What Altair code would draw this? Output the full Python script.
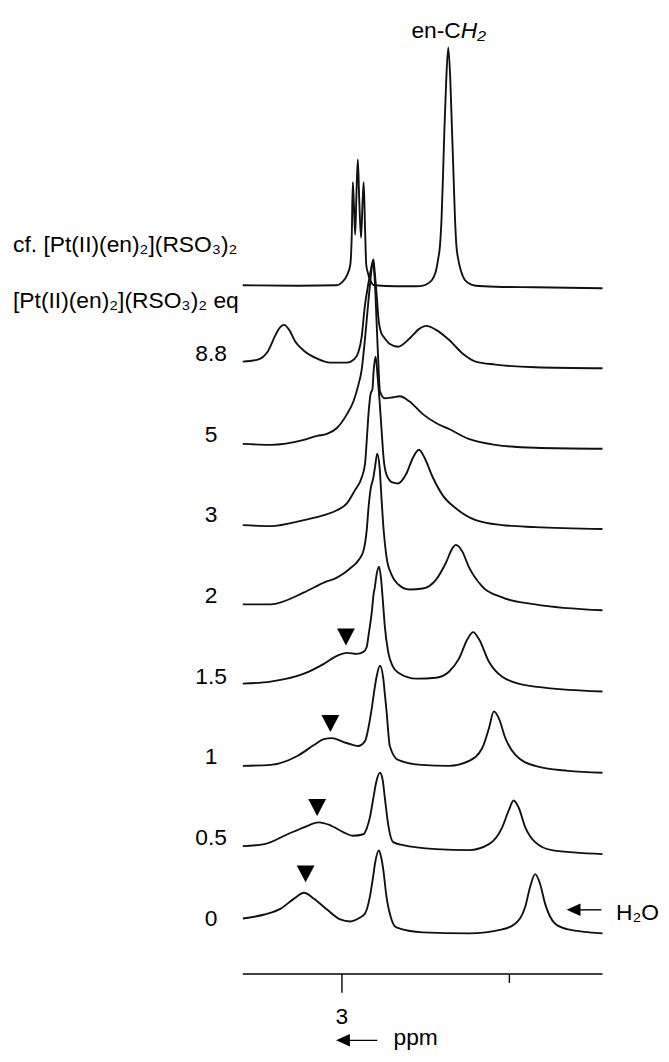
import altair as alt
import pandas as pd

FONT = "Liberation Sans"
FS = 23

# ---------------- spectra (chemical shift in ppm, intensity above each trace's baseline) ----------------
trace_names = ["cf", "8.8", "5", "3", "2", "1.5", "1", "0.5", "0"]
trace_offsets = [771, 694, 611, 529, 449, 369, 286, 205, 132]

cf_ppm = [3.592, 3.266, 3.030, 3.000, 2.970, 2.950, 2.941, 2.935, 2.929, 2.921, 2.914, 2.905, 2.897, 2.886,
          2.877, 2.870, 2.862, 2.855, 2.846, 2.828, 2.805, 2.675, 2.556, 2.509, 2.485, 2.456, 2.438, 2.426,
          2.414, 2.405, 2.396, 2.388, 2.377, 2.365, 2.353, 2.343, 2.334, 2.325, 2.317, 2.305, 2.290, 2.272,
          2.243, 2.201, 2.083, 1.846, 1.444]
cf_int = [0, -0.5, 0, 3, 10, 21, 53, 104, 83, 51, 88, 127, 88, 48, 83, 104, 58, 21, 13, 4, 0, -1, -1, 0, 2,
          7, 15, 26, 41, 68, 113, 158, 208, 240, 208, 158, 113, 68, 41, 26, 15, 7, 2, -0.5, -1.5, -2, -3]

eq88_ppm = [3.592, 3.503, 3.444, 3.396, 3.367, 3.345, 3.315, 3.278, 3.227, 3.148, 3.071, 2.970, 2.923, 2.901,
            2.882, 2.864, 2.846, 2.828, 2.812, 2.805, 2.793, 2.781, 2.763, 2.751, 2.716, 2.665, 2.598, 2.538,
            2.497, 2.438, 2.361, 2.278, 2.201, 2.083, 1.846, 1.444]
eq88_int = [0, 2, 10, 27, 35, 37, 32, 20, 11, 3, -1, -1, 3, 10, 25, 55, 75, 92, 103, 92, 68, 42, 28, 25, 18,
            15, 23, 33, 36, 32, 22, 8, 0, -3, -5.7, -6.7]

eq5_ppm = [3.592, 3.426, 3.227, 3.148, 3.089, 3.030, 2.970, 2.931, 2.901, 2.882, 2.864, 2.852, 2.834, 2.815,
           2.805, 2.793, 2.783, 2.773, 2.744, 2.694, 2.655, 2.598, 2.517, 2.438, 2.361, 2.243, 2.083, 1.846,
           1.444]
eq5_int = [0, -1, 4, 8, 10, 16, 30, 43, 60, 75, 103, 125, 158, 183, 168, 123, 83, 53, 46, 47, 48, 43, 30, 21,
           15, 5, -1, -4, -5]

eq3_ppm = [3.592, 3.426, 3.227, 3.108, 3.030, 2.970, 2.923, 2.882, 2.862, 2.852, 2.840, 2.828, 2.818, 2.811,
           2.799, 2.787, 2.775, 2.763, 2.751, 2.734, 2.698, 2.665, 2.615, 2.576, 2.540, 2.507, 2.457, 2.398,
           2.320, 2.201, 2.043, 1.846, 1.444]
eq3_int = [0, -1, 5, 10, 15, 22, 35, 48, 62, 85, 115, 133, 137, 155, 170, 150, 125, 95, 67, 51, 43, 42, 52,
           68, 76, 68, 48, 30, 17, 5, 0, -2, -4]

eq2_ppm = [3.592, 3.426, 3.227, 3.108, 3.030, 2.953, 2.899, 2.870, 2.852, 2.840, 2.828, 2.812, 2.803, 2.789,
           2.775, 2.763, 2.751, 2.734, 2.704, 2.663, 2.598, 2.517, 2.438, 2.379, 2.339, 2.320, 2.280, 2.243,
           2.162, 2.043, 1.846, 1.444]
eq2_int = [0, 0, 12, 22, 27, 36, 45, 55, 75, 100, 117, 128, 138, 152, 138, 105, 75, 48, 30, 20, 15, 16, 25,
           42, 57, 60, 53, 38, 18, 7, 0, -6]

eq15_ppm = [3.592, 3.426, 3.227, 3.108, 3.030, 2.970, 2.911, 2.872, 2.852, 2.840, 2.822, 2.811, 2.803, 2.793,
            2.778, 2.766, 2.754, 2.744, 2.724, 2.698, 2.663, 2.556, 2.438, 2.361, 2.302, 2.250, 2.217, 2.182,
            2.122, 2.043, 1.888, 1.444]
eq15_int = [0, 2, 10, 20, 28, 31, 30, 32, 37, 50, 72, 90, 98, 110, 118, 105, 80, 58, 32, 18, 11, 5, 6, 12, 25,
            45, 52, 45, 22, 7, -2, -8]

eq1_ppm = [3.592, 3.426, 3.266, 3.167, 3.108, 3.059, 2.990, 2.931, 2.905, 2.862, 2.840, 2.822, 2.805, 2.793,
           2.773, 2.753, 2.744, 2.734, 2.714, 2.665, 2.527, 2.359, 2.241, 2.162, 2.122, 2.093, 2.063, 2.024,
           1.964, 1.846, 1.651, 1.444]
eq1_int = [0, 1, 10, 21, 27, 28, 24, 21, 20, 25, 40, 58, 78, 90, 101, 88, 73, 56, 20, 6, 1, 0, 5, 18, 38, 55,
           48, 28, 11, 0, -5, -7]

eq05_ppm = [3.592, 3.463, 3.325, 3.227, 3.138, 3.069, 2.990, 2.935, 2.872, 2.852, 2.833, 2.812, 2.796, 2.773,
            2.757, 2.744, 2.724, 2.694, 2.635, 2.438, 2.241, 2.122, 2.043, 2.004, 1.975, 1.945, 1.905, 1.846,
            1.747, 1.444]
eq05_int = [0, 2, 12, 19, 24, 21, 14, 10.5, 12, 18, 29, 49, 64, 74, 67, 49, 22, 4, 1, -3, -4, 2, 19, 36, 46,
            39, 19, 4, -4, -8]

eq0_ppm = [3.592, 3.463, 3.365, 3.286, 3.227, 3.167, 3.089, 3.010, 2.951, 2.892, 2.862, 2.833, 2.814, 2.802,
           2.779, 2.766, 2.753, 2.734, 2.704, 2.675, 2.517, 2.241, 2.043, 1.964, 1.905, 1.876, 1.846, 1.817,
           1.787, 1.728, 1.649, 1.444]
eq0_int = [0, 4, 10, 20, 26, 20, 9, -1, -3, 1, 5, 22, 42, 56, 68.7, 62, 49, 22, -1, -9, -14, -15, -11, -5, 12,
           32, 44.7, 35, 15, -5, -11, -15]

ppm_lists = [cf_ppm, eq88_ppm, eq5_ppm, eq3_ppm, eq2_ppm, eq15_ppm, eq1_ppm, eq05_ppm, eq0_ppm]
int_lists = [cf_int, eq88_int, eq5_int, eq3_int, eq2_int, eq15_int, eq1_int, eq05_int, eq0_int]

# equivalent labels on the left
eq_labels = ["8.8", "5", "3", "2", "1.5", "1", "0.5", "0"]
eq_label_y = [694.9, 612.5, 532.5, 450.1, 368.6, 287.7, 206.2, 124.3]
eq_label_x = 3.781

# shoulder markers (▼) : ppm, trace, height above baseline
mark_ppm = [2.976, 3.069, 3.148, 3.217]
mark_trace = ["1.5", "1", "0.5", "0"]
mark_int = [47, 42.7, 39, 45]

# axis
axis_from, axis_to, axis_y = 3.592, 1.444, 76
tick_ppm = [3.0, 2.0]
tick_low = [57, 67]
tick_text = ["3", ""]

# ---------------- tables ----------------
rows = []
for name, off, px, iv in zip(trace_names, trace_offsets, ppm_lists, int_lists):
    assert len(px) == len(iv), name
    for i, (p, v) in enumerate(zip(px, iv)):
        rows.append({"trace": name, "i": i, "ppm": p, "y": off + v})
spec = pd.DataFrame(rows)

off_map = dict(zip(trace_names, trace_offsets))
markers = pd.DataFrame({"ppm": mark_ppm, "y": [off_map[t] + v for t, v in zip(mark_trace, mark_int)]})
labels = pd.DataFrame({"x": [eq_label_x] * len(eq_labels), "y": eq_label_y, "t": eq_labels})
headers = pd.DataFrame({"x": [4.964, 4.964], "y": [804.7, 748.0],
                        "t": ["cf. [Pt(II)(en)\u2082](RSO\u2083)\u2082", "[Pt(II)(en)\u2082](RSO\u2083)\u2082 eq"]})

xs = alt.Scale(domain=[1.0947, 4.9941], reverse=True, nice=False, zero=False)
ys = alt.Scale(domain=[-8, 1046], nice=False, zero=False)


def X(f):
    return alt.X(f, type="quantitative", scale=xs, axis=None)


def Y(f):
    return alt.Y(f, type="quantitative", scale=ys, axis=None)


def text_layer(df, align="left", style="normal"):
    return alt.Chart(df).mark_text(font=FONT, fontSize=FS, align=align, baseline="alphabetic",
                                   color="black", fontStyle=style).encode(x=X("x"), y=Y("y"), text="t:N")


lines = alt.Chart(spec).mark_line(interpolate="monotone", color="#111111", strokeWidth=1.9,
                                  strokeJoin="round").encode(
    x=X("ppm"), y=Y("y"), detail="trace:N", order=alt.Order("i:Q"))

tri = alt.Chart(markers).mark_point(shape="M-1,-0.95L1,-0.95L0,0.95Z", filled=True, size=324,
                                    color="black", opacity=1, strokeWidth=0).encode(x=X("ppm"), y=Y("y"))

lab = text_layer(labels, align="center")
head = text_layer(headers, align="left")
en_c = text_layer(pd.DataFrame({"x": [2.290], "y": [1020.7], "t": ["en-C"]}), align="right")
en_h = text_layer(pd.DataFrame({"x": [2.290], "y": [1020.7], "t": ["H\u2082"]}), align="left", style="italic")
h2o = text_layer(pd.DataFrame({"x": [1.363], "y": [130.7], "t": ["H\u2082O"]}), align="left")
tick_lab = text_layer(pd.DataFrame({"x": tick_ppm, "y": [25.7, 25.7], "t": tick_text}), align="center")
ppm_lab = text_layer(pd.DataFrame({"x": [2.692], "y": [4.0], "t": ["ppm"]}), align="left")

axis_line = alt.Chart(pd.DataFrame({"x": [axis_from], "x2": [axis_to], "y": [axis_y]})).mark_rule(
    color="black", strokeWidth=1.4).encode(x=X("x"), x2=alt.X2("x2"), y=Y("y"))
ticks = alt.Chart(pd.DataFrame({"x": tick_ppm, "y": [axis_y] * 2, "y2": tick_low})).mark_rule(
    color="black", strokeWidth=1.4).encode(x=X("x"), y=Y("y"), y2=alt.Y2("y2"))

arrows = pd.DataFrame({"x": [2.994, 1.617], "x2": [2.789, 1.451], "y": [9.0, 140.7]})
arrow_shaft = alt.Chart(arrows).mark_rule(color="black", strokeWidth=1.4).encode(
    x=X("x"), x2=alt.X2("x2"), y=Y("y"))
arrow_head = alt.Chart(arrows).mark_point(shape="M-1,0L1,-0.9L1,0.9Z", filled=True, size=196,
                                          color="black", opacity=1, strokeWidth=0).encode(x=X("x"), y=Y("y"))

chart = alt.layer(
    axis_line, ticks, lines, tri, lab, head, en_c, en_h, h2o, tick_lab, ppm_lab, arrow_shaft, arrow_head
).properties(
    width=659, height=1054, padding=0, autosize=alt.AutoSizeParams(type="none"), background="white"
).configure_view(strokeWidth=0)

chart.save("out.html", embed_options={"renderer": "svg", "actions": False})
